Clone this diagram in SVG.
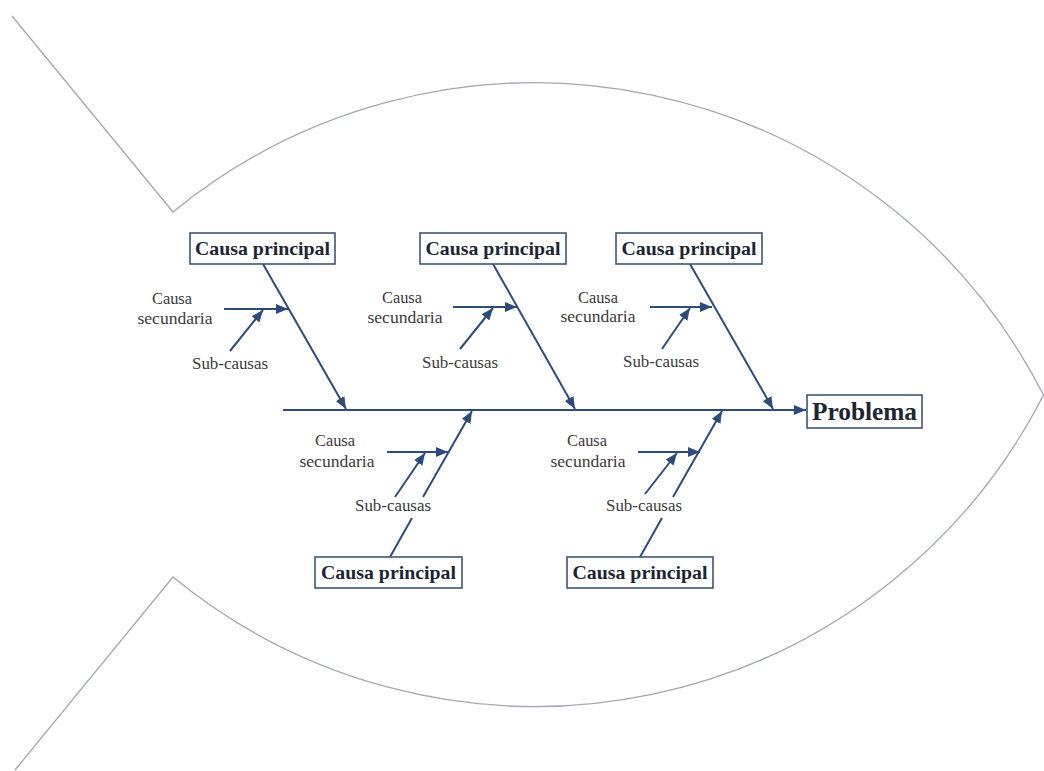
<svg xmlns="http://www.w3.org/2000/svg" width="1044" height="771" viewBox="0 0 1044 771">
  <defs>
    <marker id="arrow" markerUnits="userSpaceOnUse" markerWidth="13" markerHeight="10" refX="12" refY="5" orient="auto">
      <path d="M0,0 L12,5 L0,10 z" fill="#2c4d7c"/>
    </marker>
    <style>
      .outline { fill: none; stroke: #a3a7b3; stroke-width: 1.3; }
      .bone { fill: none; stroke: #2c4d7c; stroke-width: 2; marker-end: url(#arrow); }
      .box { fill: #ffffff; stroke: #3e5676; stroke-width: 1.6; }
      .title { font-family: "Liberation Serif", serif; font-weight: bold; font-size: 19px; fill: #1b2533; text-anchor: middle; }
      .problem { font-family: "Liberation Serif", serif; font-weight: bold; font-size: 25px; fill: #1b2533; text-anchor: middle; }
      .label { font-family: "Liberation Serif", serif; font-size: 16px; fill: #3a3a3a; text-anchor: middle; }
    </style>
  </defs>

  <rect width="1044" height="771" fill="#ffffff"/>

  <!-- fish body and tail -->
  <g id="fish-outline">
    <path class="outline" d="M12,16 L173,212 A570.9,570.9 0 0 1 1043.5,395 A570.9,570.9 0 0 1 173,577 L15,770"/>
  </g>

  <!-- connectors: spine, main bones, secondary causes, sub-causes -->
  <g id="connectors">
    <path class="bone" d="M283,410 L806,410"/>

    <!-- upper bones -->
    <path class="bone" d="M263,264 L346,409"/>
    <path class="bone" d="M224,309 L288,309"/>
    <path class="bone" d="M230,351 L263,310"/>

    <path class="bone" d="M493,264 L575,409"/>
    <path class="bone" d="M453,307 L517,307"/>
    <path class="bone" d="M460,349 L493,308"/>

    <path class="bone" d="M690,264 L773,409"/>
    <path class="bone" d="M650,307 L712,307"/>
    <path class="bone" d="M662,349 L690,308"/>

    <!-- lower bones -->
    <path class="bone" d="M390,557 L412,518 M423,497 L472,411"/>
    <path class="bone" d="M387,452 L448,452"/>
    <path class="bone" d="M395,497 L425,453"/>

    <path class="bone" d="M640,557 L662,518 M673,497 L722,411"/>
    <path class="bone" d="M638,452 L700,452"/>
    <path class="bone" d="M645,494 L677,453"/>
  </g>

  <!-- upper main causes -->
  <g id="cause-top-1">
    <rect class="box" x="190" y="233" width="145" height="31"/>
    <text class="title" x="262.5" y="255" textLength="135" lengthAdjust="spacingAndGlyphs">Causa principal</text>
    <text class="label" x="172" y="304" textLength="40" lengthAdjust="spacingAndGlyphs">Causa</text>
    <text class="label" x="175" y="324" textLength="75" lengthAdjust="spacingAndGlyphs">secundaria</text>
    <text class="label" x="230" y="369" textLength="76" lengthAdjust="spacingAndGlyphs">Sub-causas</text>
  </g>
  <g id="cause-top-2">
    <rect class="box" x="420" y="233" width="146" height="31"/>
    <text class="title" x="493" y="255" textLength="135" lengthAdjust="spacingAndGlyphs">Causa principal</text>
    <text class="label" x="402" y="303" textLength="40" lengthAdjust="spacingAndGlyphs">Causa</text>
    <text class="label" x="405" y="323" textLength="75" lengthAdjust="spacingAndGlyphs">secundaria</text>
    <text class="label" x="460" y="368" textLength="76" lengthAdjust="spacingAndGlyphs">Sub-causas</text>
  </g>
  <g id="cause-top-3">
    <rect class="box" x="616" y="233" width="146" height="31"/>
    <text class="title" x="689" y="255" textLength="135" lengthAdjust="spacingAndGlyphs">Causa principal</text>
    <text class="label" x="598" y="303" textLength="40" lengthAdjust="spacingAndGlyphs">Causa</text>
    <text class="label" x="598" y="322" textLength="75" lengthAdjust="spacingAndGlyphs">secundaria</text>
    <text class="label" x="661" y="367" textLength="76" lengthAdjust="spacingAndGlyphs">Sub-causas</text>
  </g>

  <!-- lower main causes -->
  <g id="cause-bottom-1">
    <rect class="box" x="315" y="557" width="147" height="31"/>
    <text class="title" x="388.5" y="579" textLength="135" lengthAdjust="spacingAndGlyphs">Causa principal</text>
    <text class="label" x="335" y="446" textLength="40" lengthAdjust="spacingAndGlyphs">Causa</text>
    <text class="label" x="337" y="467" textLength="75" lengthAdjust="spacingAndGlyphs">secundaria</text>
    <text class="label" x="393" y="511" textLength="76" lengthAdjust="spacingAndGlyphs">Sub-causas</text>
  </g>
  <g id="cause-bottom-2">
    <rect class="box" x="567" y="557" width="146" height="31"/>
    <text class="title" x="640" y="579" textLength="135" lengthAdjust="spacingAndGlyphs">Causa principal</text>
    <text class="label" x="587" y="446" textLength="40" lengthAdjust="spacingAndGlyphs">Causa</text>
    <text class="label" x="588" y="467" textLength="75" lengthAdjust="spacingAndGlyphs">secundaria</text>
    <text class="label" x="644" y="511" textLength="76" lengthAdjust="spacingAndGlyphs">Sub-causas</text>
  </g>

  <!-- effect -->
  <g id="problem">
    <rect class="box" x="807" y="395" width="115" height="33"/>
    <text class="problem" x="864.5" y="420" textLength="105" lengthAdjust="spacingAndGlyphs">Problema</text>
  </g>
</svg>
